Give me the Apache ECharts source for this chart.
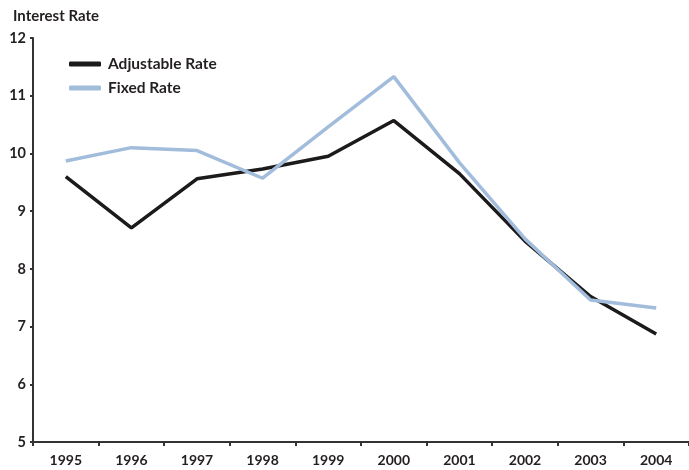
<!DOCTYPE html>
<html><head><meta charset="utf-8">
<script src="https://cdn.jsdelivr.net/npm/echarts@6/dist/echarts.min.js"></script>
<style>html,body{margin:0;padding:0;background:#fff}#c{width:689px;height:470px}</style>
</head><body><div id="c"></div>
<script>
var years = ['1995','1996','1997','1998','1999','2000','2001','2002','2003','2004'];
var adjustable = [9.60, 8.71, 9.56, 9.73, 9.95, 10.57, 9.65, 8.48, 7.52, 6.87];
var fixed = [9.87, 10.10, 10.05, 9.57, 10.46, 11.33, 9.84, 8.52, 7.46, 7.32];
var yTicks = [5, 6, 7, 8, 9, 10, 11, 12];

var FONT = 'Lato';
var chart = echarts.init(document.getElementById('c'), null, {renderer: 'canvas'});
chart.setOption({
  animation: false,
  backgroundColor: '#fff',
  title: {
    text: 'Interest Rate', left: 8, top: 4,
    textStyle: {fontFamily: FONT, fontWeight: 'bold', fontSize: 15, color: '#231f20'}
  },
  legend: {
    orient: 'vertical', left: 64, top: 51, itemGap: 8,
    itemWidth: 32, itemHeight: 5, icon: 'roundRect',
    textStyle: {fontFamily: FONT, fontWeight: 'bold', fontSize: 15.5, color: '#231f20', padding: [0,0,0,2]},
    data: ['Adjustable Rate', 'Fixed Rate']
  },
  grid: {left: 33, top: 38, width: 667, height: 404, containLabel: false},
  xAxis: {
    type: 'category', data: years, boundaryGap: true,
    axisLine: {lineStyle: {color: '#333', width: 2}},
    axisTick: {show: true, length: 4, lineStyle: {color: '#333', width: 2}},
    axisLabel: {fontFamily: FONT, fontWeight: 'bold', fontSize: 14, color: '#231f20', margin: 11}
  },
  yAxis: {
    type: 'value', min: yTicks[0], max: yTicks[yTicks.length-1], interval: 1,
    splitLine: {show: false},
    axisLine: {show: true, lineStyle: {color: '#333', width: 2}},
    axisTick: {show: true, length: 3, lineStyle: {color: '#333', width: 2}},
    axisLabel: {fontFamily: FONT, fontWeight: 'bold', fontSize: 14.5, color: '#231f20', margin: 7}
  },
  series: [
    {name: 'Adjustable Rate', type: 'line', data: adjustable, symbol: 'none',
     itemStyle: {color: '#1c1a1a'}, lineStyle: {color: '#1c1a1a', width: 3.5}},
    {name: 'Fixed Rate', type: 'line', data: fixed, symbol: 'none',
     itemStyle: {color: '#a2bcdc'}, lineStyle: {color: '#a2bcdc', width: 3.5}}
  ]
});
</script></body></html>
